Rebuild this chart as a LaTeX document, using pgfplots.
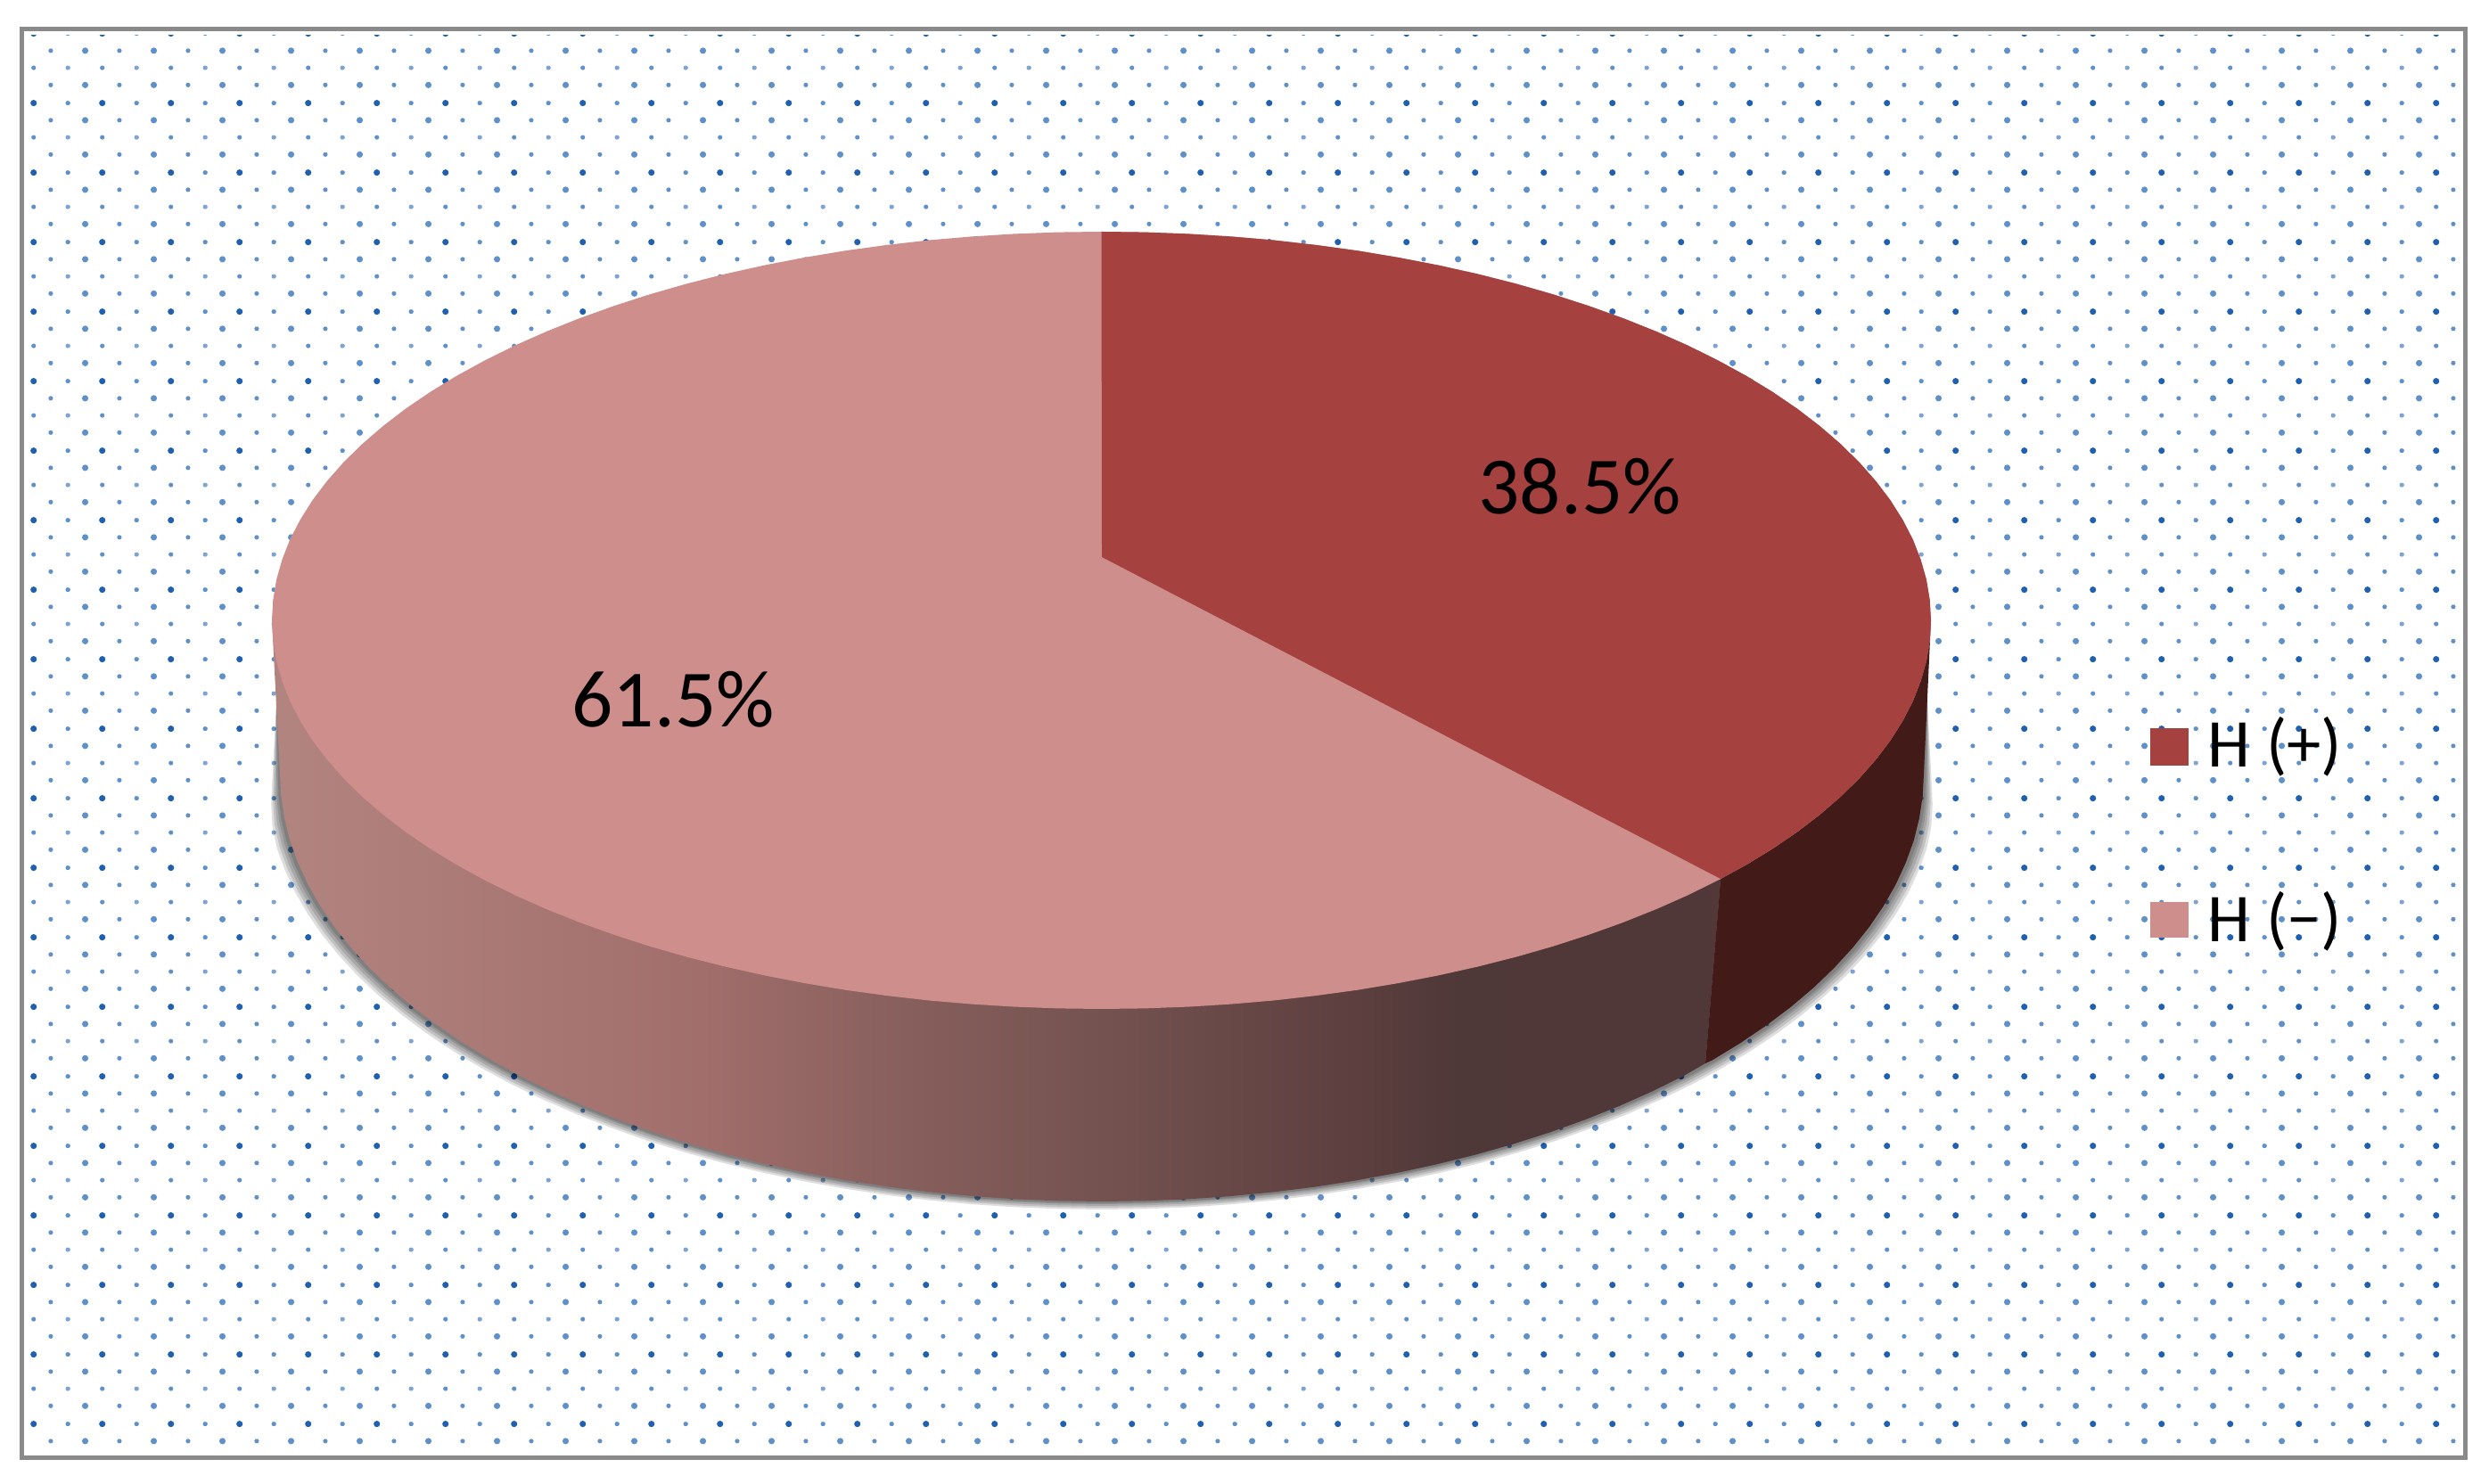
\documentclass[border=0pt]{standalone}
\usepackage{fontspec}
\setmainfont{Carlito}
\usepackage{pgfplots}
\usepackage{pgfplotstable}
\pgfplotsset{compat=1.18}
\usetikzlibrary{patterns}

\definecolor{framegray}{HTML}{8A8A8A}
\definecolor{sliceA}{HTML}{A5413F}
\definecolor{sliceB}{HTML}{CE8E8C}
\definecolor{sideA}{HTML}{421A17}
\definecolor{dotA}{HTML}{2060B0}
\definecolor{dotB}{HTML}{6090C8}
\definecolor{dotC}{HTML}{80A4D2}

% dotted wall of the chart area, one tile = 4 rows
\newcommand{\dotat}[3]{\pgfsetfillcolor{#3}\pgfpathcircle{\pgfqpoint{#1pt}{#2pt}}{0.9pt}\pgfusepath{fill}}
\newcommand{\dotsm}[3]{\pgfsetfillcolor{#3}\pgfpathcircle{\pgfqpoint{#1pt}{#2pt}}{0.65pt}\pgfusepath{fill}}
\pgfdeclarepatterninherentlycolored{webdots}{\pgfqpoint{0pt}{0pt}}{\pgfqpoint{19.35pt}{19.37pt}}{\pgfqpoint{19.35pt}{19.37pt}}{%
  \dotat{9.5}{16.95}{dotA}
  \dotsm{19.17}{16.95}{dotB}\dotsm{-0.18}{16.95}{dotB}
  \dotsm{14.34}{12.11}{dotB}\dotat{4.67}{12.11}{dotB}
  \dotsm{9.5}{7.27}{dotB}
  \dotsm{19.17}{7.27}{dotC}\dotsm{-0.18}{7.27}{dotC}
  \dotsm{14.34}{2.43}{dotB}\dotat{4.67}{2.43}{dotB}
}

% side wall gets darker to the right
\pgfdeclarehorizontalshading{sidegrad}{100bp}{%
  rgb(0bp)=(0.70,0.52,0.50);
  rgb(25bp)=(0.70,0.52,0.50);
  rgb(40bp)=(0.63,0.43,0.42);
  rgb(46bp)=(0.54,0.38,0.37);
  rgb(54bp)=(0.45,0.32,0.31);
  rgb(62bp)=(0.37,0.25,0.25);
  rgb(66bp)=(0.31,0.22,0.22);
  rgb(75bp)=(0.32,0.22,0.22);
  rgb(100bp)=(0.32,0.22,0.22)}

% lower rim of the pie, image pixels
\pgfplotstableread{
x y
2162 780
2158 868
2156.7 893.1
2152.9 918.2
2146.7 943.1
2137.8 967.8
2126.6 992.2
2112.9 1016.3
2096.8 1040
2078.3 1063.2
2057.5 1085.9
2034.5 1108
2009.3 1129.4
1981.9 1150.1
1952.5 1170.1
1921.2 1189.2
1888 1207.4
1852.9 1224.7
1816.2 1241
1777.9 1256.3
1738.2 1270.6
1697 1283.7
1654.6 1295.7
1611 1306.5
1566.4 1316.1
1520.9 1324.5
1474.6 1331.7
1427.7 1337.5
1380.2 1342.1
1332.4 1345.4
1284.3 1347.3
1236 1348
1187.7 1347.3
1139.6 1345.4
1091.8 1342.1
1044.3 1337.5
997.4 1331.7
951.1 1324.5
905.6 1316.1
861 1306.5
817.4 1295.7
775 1283.7
733.8 1270.6
694.1 1256.3
655.8 1241
619.1 1224.7
584 1207.4
550.8 1189.2
519.5 1170.1
490.1 1150.1
462.7 1129.4
437.5 1108
414.5 1085.9
393.7 1063.2
375.2 1040
359.1 1016.3
345.4 992.2
334.2 967.8
325.3 943.1
319.1 918.2
315.3 893.1
314 868
310 780
}\lowerrim

\newcommand{\shadowlayer}[2]{%
  \addplot[fill=black, draw=none, opacity=0.13] table[
    x expr={1236+(\thisrow{x}-1236)*(1+#1*min(1,(\thisrow{y}-780)/150))},
    y expr={\thisrow{y}+#2}] {\lowerrim} --cycle;
}

\begin{document}
\begin{tikzpicture}
\begin{axis}[
  at={(0,0)},
  scale only axis,
  width=698pt,
  height=416.25pt,
  xmin=0, xmax=2792,
  ymin=0, ymax=1665,
  y dir=reverse,
  hide axis,
  clip=true,
]
% page and wall
\addplot[fill=white, draw=none] coordinates {(0,0)(2792,0)(2792,1665)(0,1665)} --cycle;
\addplot[pattern=webdots, draw=none] coordinates {(30,40)(2755,40)(2755,1625)(30,1625)} --cycle;
\addplot[draw=framegray, line width=1.25pt] coordinates {(24,33)(2765,33)(2765,1635)(24,1635)} --cycle;

% soft shadow under the pie
\shadowlayer{0.016}{9}
\shadowlayer{0.013}{7}
\shadowlayer{0.010}{5}
\shadowlayer{0.007}{3}
\shadowlayer{0.004}{2}

% side wall of H (-)
\addplot[shading=sidegrad, draw=none] coordinates {
  (305,696)(314,868)(315.3,893.1)(319.1,918.2)(325.3,943.1)(334.2,967.8)(345.4,992.2)(359.1,1016.3)
  (375.2,1040)(393.7,1063.2)(414.5,1085.9)(437.5,1108)(462.7,1129.4)(490.1,1150.1)(519.5,1170.1)
  (550.8,1189.2)(584,1207.4)(619.1,1224.7)(655.8,1241)(694.1,1256.3)(733.8,1270.6)(775,1283.7)
  (817.4,1295.7)(861,1306.5)(905.6,1316.1)(951.1,1324.5)(997.4,1331.7)(1044.3,1337.5)(1091.8,1342.1)
  (1139.6,1345.4)(1187.7,1347.3)(1236,1348)(1284.3,1347.3)(1332.4,1345.4)(1380.2,1342.1)(1427.7,1337.5)
  (1474.6,1331.7)(1520.9,1324.5)(1566.4,1316.1)(1611,1306.5)(1654.6,1295.7)(1697,1283.7)(1738.2,1270.6)
  (1777.9,1256.3)(1816.2,1241)(1852.9,1224.7)(1888,1207.4)(1913,1193)(1930,987)
} --cycle;

% side wall of H (+)
\addplot[fill=sideA, draw=none] coordinates {
  (1930,987)(2166,696)(2158,868)(2156.7,893.1)(2152.9,918.2)(2146.7,943.1)(2137.8,967.8)(2126.6,992.2)
  (2112.9,1016.3)(2096.8,1040)(2078.3,1063.2)(2057.5,1085.9)(2034.5,1108)(2009.3,1129.4)(1981.9,1150.1)
  (1952.5,1170.1)(1921.2,1189.2)(1913,1193)
} --cycle;

% top face, H (-) first as the whole ellipse
\addplot[fill=sliceB, draw=none] coordinates {
  (1235.5,260)(1284.2,260.6)(1332.8,262.4)(1381.1,265.4)(1429,269.5)(1476.3,274.9)(1523,281.3)(1569,289)
  (1614,297.7)(1657.9,307.5)(1700.8,318.4)(1742.3,330.3)(1782.4,343.3)(1821.1,357.2)(1858.1,372)
  (1893.5,387.7)(1927,404.3)(1958.6,421.6)(1988.3,439.7)(2015.9,458.5)(2041.3,478)(2064.6,498.1)
  (2085.6,518.7)(2104.2,539.8)(2120.5,561.3)(2134.3,583.2)(2145.7,605.3)(2154.5,627.8)(2160.9,650.4)
  (2164.7,673.2)(2166,696)(2164.7,718.8)(2160.9,741.6)(2154.5,764.2)(2145.7,786.7)(2134.3,808.8)
  (2120.5,830.7)(2104.2,852.2)(2085.6,873.3)(2064.6,893.9)(2041.3,914)(2015.9,933.5)(1988.3,952.3)
  (1958.6,970.4)(1927,987.7)(1893.5,1004.3)(1858.1,1020)(1821.1,1034.8)(1782.4,1048.7)(1742.3,1061.7)
  (1700.8,1073.6)(1657.9,1084.5)(1614,1094.3)(1569,1103)(1523,1110.7)(1476.3,1117.1)(1429,1122.5)
  (1381.1,1126.6)(1332.8,1129.6)(1284.2,1131.4)(1235.5,1132)(1186.8,1131.4)(1138.2,1129.6)(1089.9,1126.6)
  (1042,1122.5)(994.7,1117.1)(948,1110.7)(902,1103)(857,1094.3)(813.1,1084.5)(770.2,1073.6)(728.7,1061.7)
  (688.6,1048.7)(649.9,1034.8)(612.9,1020)(577.5,1004.3)(544,987.7)(512.4,970.4)(482.7,952.3)(455.1,933.5)
  (429.7,914)(406.4,893.9)(385.4,873.3)(366.8,852.2)(350.5,830.7)(336.7,808.8)(325.3,786.7)(316.5,764.2)
  (310.1,741.6)(306.3,718.8)(305,696)(306.3,673.2)(310.1,650.4)(316.5,627.8)(325.3,605.3)(336.7,583.2)
  (350.5,561.3)(366.8,539.8)(385.4,518.7)(406.4,498.1)(429.7,478)(455.1,458.5)(482.7,439.7)(512.4,421.6)
  (544,404.3)(577.5,387.7)(612.9,372)(649.9,357.2)(688.6,343.3)(728.7,330.3)(770.2,318.4)(813.1,307.5)
  (857,297.7)(902,289)(948,281.3)(994.7,274.9)(1042,269.5)(1089.9,265.4)(1138.2,262.4)(1186.8,260.6)
} --cycle;

% top face, H (+)
\addplot[fill=sliceA, draw=none] coordinates {
  (1236,625)(1235.5,260)(1284.2,260.6)(1332.8,262.4)(1381.1,265.4)(1429,269.5)(1476.3,274.9)(1523,281.3)(1569,289)
  (1614,297.7)(1657.9,307.5)(1700.8,318.4)(1742.3,330.3)(1782.4,343.3)(1821.1,357.2)(1858.1,372)
  (1893.5,387.7)(1927,404.3)(1958.6,421.6)(1988.3,439.7)(2015.9,458.5)(2041.3,478)(2064.6,498.1)
  (2085.6,518.7)(2104.2,539.8)(2120.5,561.3)(2134.3,583.2)(2145.7,605.3)(2154.5,627.8)(2160.9,650.4)
  (2164.7,673.2)(2166,696)(2164.7,718.8)(2160.9,741.6)(2154.5,764.2)(2145.7,786.7)(2134.3,808.8)
  (2120.5,830.7)(2104.2,852.2)(2085.6,873.3)(2064.6,893.9)(2041.3,914)(2015.9,933.5)(1988.3,952.3)
  (1958.6,970.4)(1930,986)
} --cycle;

% legend keys
\addplot[fill=sliceA, draw=none] coordinates {(2412,817)(2455,817)(2455,859)(2412,859)} --cycle;
\addplot[fill=sliceB, draw=none] coordinates {(2412,1012)(2455,1012)(2455,1052)(2412,1052)} --cycle;

\node[font=\fontsize{22.8}{24}\selectfont, anchor=center, inner sep=0pt] at (axis cs:1772,546) {38.5\%};
\node[font=\fontsize{22.8}{24}\selectfont, anchor=center, inner sep=0pt] at (axis cs:755,785) {61.5\%};
\node[font=\fontsize{19.2}{20}\selectfont, anchor=base west, inner sep=0pt] at (axis cs:2476,861) {H (+)};
\node[font=\fontsize{19.2}{20}\selectfont, anchor=base west, inner sep=0pt] at (axis cs:2476,1057) {H (−)};
\end{axis}
\end{tikzpicture}
\end{document}
